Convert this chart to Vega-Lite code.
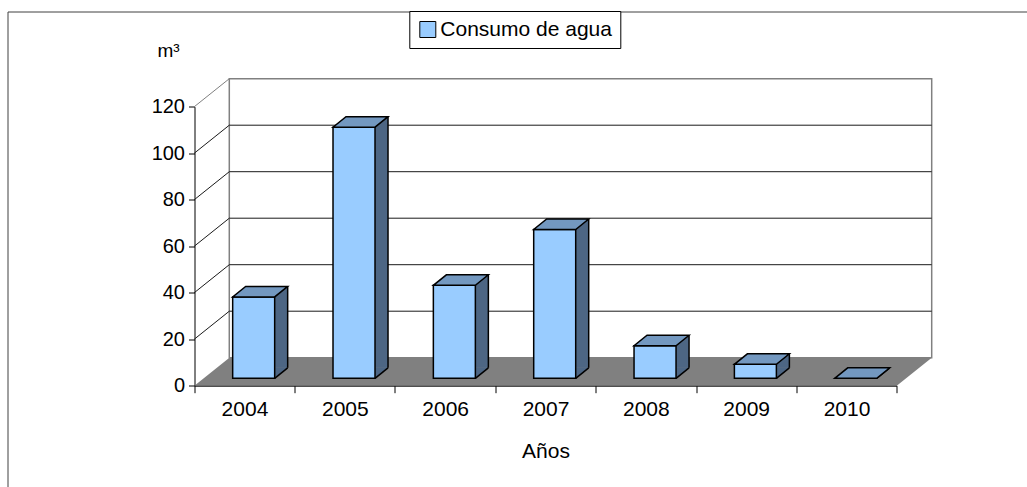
{
  "$schema": "https://vega.github.io/schema/vega-lite/v6.json",
  "width": 1019.5,
  "height": 475.5,
  "autosize": {"type": "none"},
  "padding": {"left": 7.5, "top": 11.5, "right": 0, "bottom": 0},
  "background": "white",
  "datasets": {
    "consumo": [
      {"year": "2004", "m3": 35},
      {"year": "2005", "m3": 108},
      {"year": "2006", "m3": 40},
      {"year": "2007", "m3": 64},
      {"year": "2008", "m3": 14},
      {"year": "2009", "m3": 6},
      {"year": "2010", "m3": 0}
    ],
    "rejilla": [{"t": 20}, {"t": 40}, {"t": 60}, {"t": 80}, {"t": 100}, {"t": 120}]
  },
  "data": {"name": "consumo"},
  "layer": [
    {
      "transform": [{"filter": "datum.year == '2004'"}],
      "mark": {"type": "rect", "fill": "white", "stroke": "#808080", "strokeWidth": 1.5, "xOffset": 35, "x2Offset": 35, "yOffset": -28, "y2Offset": -28},
      "encoding": {
        "x": {"datum": "2004", "type": "ordinal", "bandPosition": 0, "title": "Años",
              "scale": {"type": "band", "range": [186.8, 889.2], "paddingInner": 0, "paddingOuter": 0}},
        "x2": {"datum": "2010", "bandPosition": 1},
        "y": {"datum": 120, "type": "quantitative", "title": "m³",
              "scale": {"domain": [0, 120], "range": [374.2, 95.2], "nice": false}},
        "y2": {"datum": 0}
      }
    },
    {
      "transform": [{"filter": "datum.year == '2004'"}],
      "mark": {"type": "point", "shape": "M-50.1,0L652.3,0L687.3,-28L-15.1,-28Z", "size": 4, "filled": true, "fill": "#808080", "strokeWidth": 0, "opacity": 1},
      "encoding": {
        "x": {"datum": "2004", "type": "ordinal", "title": "Años"},
        "y": {"datum": 0, "type": "quantitative", "title": "m³"}
      }
    },
    {
      "data": {"name": "rejilla"},
      "transform": [{"filter": "datum.t < 120"}],
      "mark": {"type": "rule", "stroke": "#1a1a1a", "strokeWidth": 1, "xOffset": 35, "x2Offset": 35, "yOffset": -28},
      "encoding": {
        "x": {"datum": "2004", "type": "ordinal", "bandPosition": 0, "title": "Años"},
        "x2": {"datum": "2010", "bandPosition": 1},
        "y": {"field": "t", "type": "quantitative", "title": "m³"}
      }
    },
    {
      "data": {"name": "rejilla"},
      "mark": {"type": "rule", "strokeWidth": 1, "x2Offset": 35, "y2Offset": -28},
      "encoding": {
        "x": {"datum": "2004", "type": "ordinal", "bandPosition": 0, "title": "Años"},
        "x2": {"datum": "2004", "bandPosition": 0},
        "y": {"field": "t", "type": "quantitative", "title": "m³"},
        "y2": {"field": "t"},
        "stroke": {"condition": {"test": "datum.t == 120", "value": "#808080"}, "value": "#1a1a1a"}
      }
    },
    {
      "mark": {"type": "bar", "fill": "#4d6684", "width": 13, "xOffset": 36.7, "yOffset": -17.9, "y2Offset": -17.9, "strokeWidth": 0},
      "encoding": {
        "x": {"field": "year", "type": "ordinal", "title": "Años"},
        "y": {"field": "m3", "type": "quantitative", "title": "m³"},
        "y2": {"datum": 0}
      }
    },
    {
      "mark": {"type": "point", "shape": "M30.2,-7.4L43.2,-17.9L30.2,-17.9Z", "size": 4, "filled": true, "fill": "#4d6684", "strokeWidth": 0, "opacity": 1},
      "encoding": {
        "x": {"field": "year", "type": "ordinal", "title": "Años"},
        "y": {"datum": 0, "type": "quantitative", "title": "m³"}
      }
    },
    {
      "mark": {"type": "rule", "stroke": "black", "strokeWidth": 1.5, "xOffset": 43.2, "yOffset": -17.9, "y2Offset": -17.9},
      "encoding": {
        "x": {"field": "year", "type": "ordinal", "title": "Años"},
        "y": {"field": "m3", "type": "quantitative", "title": "m³"},
        "y2": {"datum": 0}
      }
    },
    {
      "mark": {"type": "point", "shape": "M30.2,-7.4L43.2,-17.9", "size": 4, "filled": false, "stroke": "black", "strokeWidth": 1.5, "opacity": 1},
      "encoding": {
        "x": {"field": "year", "type": "ordinal", "title": "Años"},
        "y": {"datum": 0, "type": "quantitative", "title": "m³"}
      }
    },
    {
      "mark": {"type": "bar", "width": 42, "xOffset": 9.2, "yOffset": -7.4, "y2Offset": -7.4, "stroke": "black", "strokeWidth": 1.5, "opacity": 1},
      "encoding": {
        "x": {"field": "year", "type": "ordinal", "title": "Años",
              "scale": {"type": "band", "range": [186.8, 889.2], "paddingInner": 0, "paddingOuter": 0},
              "axis": {"offset": -101.3, "tickBand": "extent", "tickSize": 7, "labelFontSize": 21, "labelPadding": 17, "labelAngle": 0,
                       "labelAlign": "center", "labelFlush": false,
                       "titleFontSize": 21, "titlePadding": 21, "domainColor": "black", "tickColor": "black", "labelColor": "black", "titleColor": "black", "titleFontWeight": "normal", "grid": false}},
        "y": {"field": "m3", "type": "quantitative", "title": "m³",
              "scale": {"domain": [0, 120], "range": [374.2, 95.2], "nice": false},
              "axis": {"offset": -187, "tickSize": 6, "labelFontSize": 20, "labelPadding": 4, "tickCount": 7, "grid": false,
                       "titleAngle": 0, "titleX": -37.5, "titleY": 44.5, "titleAlign": "left", "titleBaseline": "alphabetic", "titleFontSize": 19,
                       "domainColor": "black", "tickColor": "black", "labelColor": "black", "titleColor": "black", "titleFontWeight": "normal"}},
        "y2": {"datum": 0},
        "color": {"datum": "Consumo de agua", "type": "nominal",
                  "scale": {"domain": ["Consumo de agua"], "range": ["#99ccff"]},
                  "legend": {"orient": "none", "legendX": 401.8, "legendY": -0.5, "title": null, "labelLimit": 400, "labelExpr": "datum.label + ' '"}}
      }
    },
    {
      "mark": {"type": "point", "shape": "M-11.8,-7.4L30.2,-7.4L43.2,-17.9L1.2,-17.9Z", "size": 4, "filled": true, "fill": "#7398c0", "stroke": "black", "strokeWidth": 1.5, "opacity": 1},
      "encoding": {
        "x": {"field": "year", "type": "ordinal", "title": "Años"},
        "y": {"field": "m3", "type": "quantitative", "title": "m³"}
      }
    }
  ],
  "config": {
    "font": "Liberation Sans",
    "view": {"stroke": "#404040", "strokeWidth": 1},
    "legend": {
      "strokeColor": "black", "fillColor": "white", "padding": 8,
      "symbolType": "square", "symbolSize": 256, "symbolStrokeColor": "black", "symbolStrokeWidth": 1, "symbolOpacity": 1,
      "labelFontSize": 21, "labelColor": "black", "labelOffset": 2, "labelFont": "Liberation Sans", "labelLimit": 400
    }
  }
}
